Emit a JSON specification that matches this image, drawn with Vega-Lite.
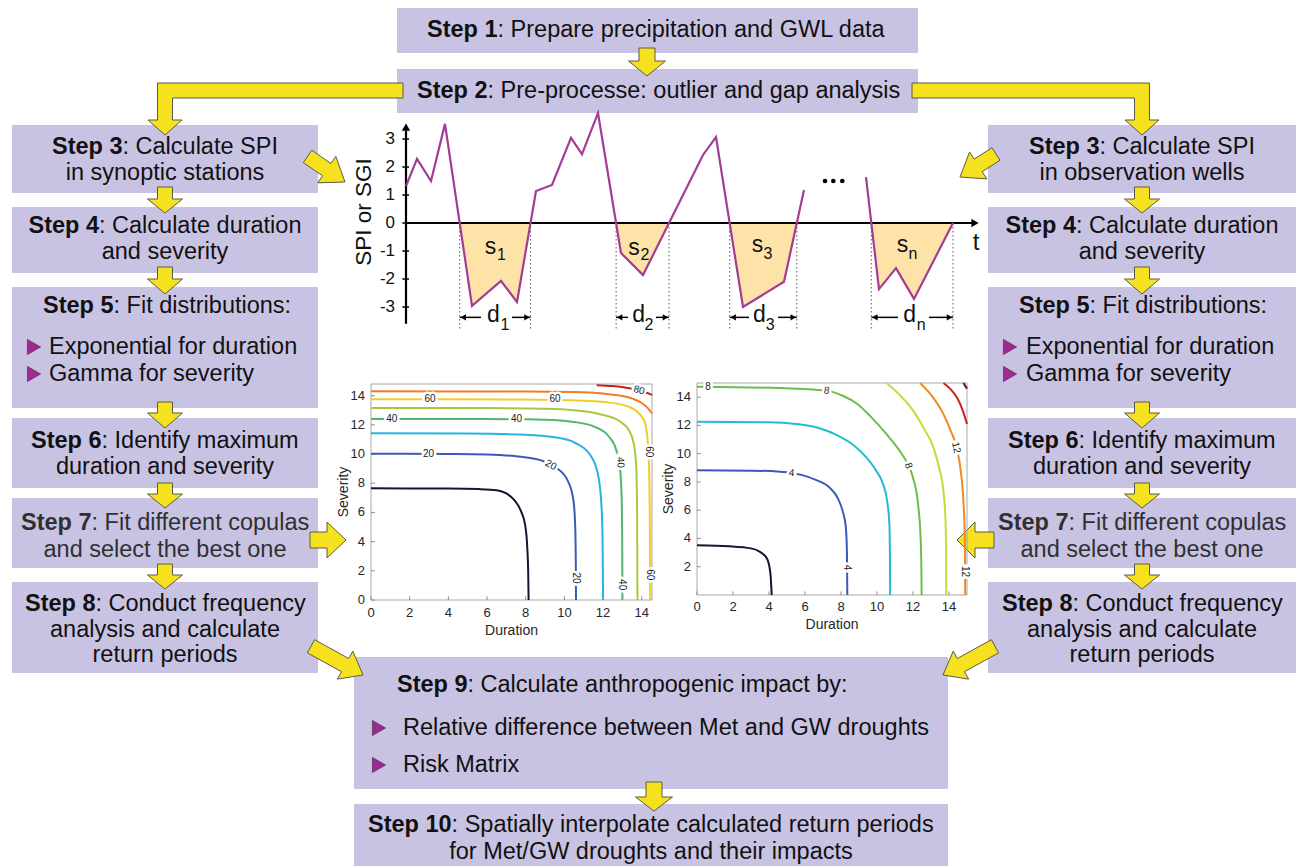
{
"$schema":"https://vega.github.io/schema/vega-lite/v6.json",
"width":1304,"height":866,"padding":0,"autosize":{"type":"none"},
"background":"#ffffff",
"config":{"view":{"stroke":null},"font":"Liberation Sans"},
"datasets":{
"one":[{"n":1}],
"boxes":[
{"x":397,"x2":918,"y":8,"y2":53},{"x":397,"x2":918,"y":69,"y2":113},
{"x":12,"x2":318,"y":125,"y2":193},{"x":12,"x2":318,"y":207,"y2":273},{"x":12,"x2":318,"y":287,"y2":408},{"x":12,"x2":318,"y":418,"y2":488},{"x":12,"x2":318,"y":498,"y2":568},{"x":12,"x2":318,"y":582,"y2":673},
{"x":988,"x2":1296,"y":125,"y2":193},{"x":988,"x2":1296,"y":207,"y2":273},{"x":988,"x2":1296,"y":287,"y2":408},{"x":988,"x2":1296,"y":418,"y2":488},{"x":988,"x2":1296,"y":498,"y2":568},{"x":988,"x2":1296,"y":582,"y2":673},
{"x":354,"x2":948,"y":657,"y2":789},{"x":354,"x2":948,"y":804,"y2":866}],
"arrows":[
{"id":"a1","i":0,"x":639,"y":48},{"id":"a1","i":1,"x":655,"y":48},{"id":"a1","i":2,"x":655,"y":61},{"id":"a1","i":3,"x":665.5,"y":61},{"id":"a1","i":4,"x":647,"y":76},{"id":"a1","i":5,"x":628.5,"y":61},{"id":"a1","i":6,"x":639,"y":61},{"id":"a1","i":7,"x":639,"y":48},
{"id":"a2","i":0,"x":646,"y":782},{"id":"a2","i":1,"x":662,"y":782},{"id":"a2","i":2,"x":662,"y":797},{"id":"a2","i":3,"x":672.5,"y":797},{"id":"a2","i":4,"x":654,"y":811},{"id":"a2","i":5,"x":635.5,"y":797},{"id":"a2","i":6,"x":646,"y":797},{"id":"a2","i":7,"x":646,"y":782},
{"id":"l3","i":0,"x":157.5,"y":187},{"id":"l3","i":1,"x":172.5,"y":187},{"id":"l3","i":2,"x":172.5,"y":199},{"id":"l3","i":3,"x":182.5,"y":199},{"id":"l3","i":4,"x":165,"y":213},{"id":"l3","i":5,"x":147.5,"y":199},{"id":"l3","i":6,"x":157.5,"y":199},{"id":"l3","i":7,"x":157.5,"y":187},
{"id":"l4","i":0,"x":157.5,"y":267},{"id":"l4","i":1,"x":172.5,"y":267},{"id":"l4","i":2,"x":172.5,"y":279},{"id":"l4","i":3,"x":182.5,"y":279},{"id":"l4","i":4,"x":165,"y":294},{"id":"l4","i":5,"x":147.5,"y":279},{"id":"l4","i":6,"x":157.5,"y":279},{"id":"l4","i":7,"x":157.5,"y":267},
{"id":"l5","i":0,"x":157.5,"y":402},{"id":"l5","i":1,"x":172.5,"y":402},{"id":"l5","i":2,"x":172.5,"y":413},{"id":"l5","i":3,"x":182.5,"y":413},{"id":"l5","i":4,"x":165,"y":428},{"id":"l5","i":5,"x":147.5,"y":413},{"id":"l5","i":6,"x":157.5,"y":413},{"id":"l5","i":7,"x":157.5,"y":402},
{"id":"l6","i":0,"x":157.5,"y":483},{"id":"l6","i":1,"x":172.5,"y":483},{"id":"l6","i":2,"x":172.5,"y":494},{"id":"l6","i":3,"x":182.5,"y":494},{"id":"l6","i":4,"x":165,"y":508},{"id":"l6","i":5,"x":147.5,"y":494},{"id":"l6","i":6,"x":157.5,"y":494},{"id":"l6","i":7,"x":157.5,"y":483},
{"id":"l7","i":0,"x":157.5,"y":564},{"id":"l7","i":1,"x":172.5,"y":564},{"id":"l7","i":2,"x":172.5,"y":575},{"id":"l7","i":3,"x":182.5,"y":575},{"id":"l7","i":4,"x":165,"y":589},{"id":"l7","i":5,"x":147.5,"y":575},{"id":"l7","i":6,"x":157.5,"y":575},{"id":"l7","i":7,"x":157.5,"y":564},
{"id":"r3","i":0,"x":1134.5,"y":187},{"id":"r3","i":1,"x":1149.5,"y":187},{"id":"r3","i":2,"x":1149.5,"y":199},{"id":"r3","i":3,"x":1159.5,"y":199},{"id":"r3","i":4,"x":1142,"y":213},{"id":"r3","i":5,"x":1124.5,"y":199},{"id":"r3","i":6,"x":1134.5,"y":199},{"id":"r3","i":7,"x":1134.5,"y":187},
{"id":"r4","i":0,"x":1134.5,"y":267},{"id":"r4","i":1,"x":1149.5,"y":267},{"id":"r4","i":2,"x":1149.5,"y":279},{"id":"r4","i":3,"x":1159.5,"y":279},{"id":"r4","i":4,"x":1142,"y":294},{"id":"r4","i":5,"x":1124.5,"y":279},{"id":"r4","i":6,"x":1134.5,"y":279},{"id":"r4","i":7,"x":1134.5,"y":267},
{"id":"r5","i":0,"x":1134.5,"y":402},{"id":"r5","i":1,"x":1149.5,"y":402},{"id":"r5","i":2,"x":1149.5,"y":413},{"id":"r5","i":3,"x":1159.5,"y":413},{"id":"r5","i":4,"x":1142,"y":428},{"id":"r5","i":5,"x":1124.5,"y":413},{"id":"r5","i":6,"x":1134.5,"y":413},{"id":"r5","i":7,"x":1134.5,"y":402},
{"id":"r6","i":0,"x":1134.5,"y":483},{"id":"r6","i":1,"x":1149.5,"y":483},{"id":"r6","i":2,"x":1149.5,"y":494},{"id":"r6","i":3,"x":1159.5,"y":494},{"id":"r6","i":4,"x":1142,"y":508},{"id":"r6","i":5,"x":1124.5,"y":494},{"id":"r6","i":6,"x":1134.5,"y":494},{"id":"r6","i":7,"x":1134.5,"y":483},
{"id":"r7","i":0,"x":1134.5,"y":564},{"id":"r7","i":1,"x":1149.5,"y":564},{"id":"r7","i":2,"x":1149.5,"y":575},{"id":"r7","i":3,"x":1159.5,"y":575},{"id":"r7","i":4,"x":1142,"y":589},{"id":"r7","i":5,"x":1124.5,"y":575},{"id":"r7","i":6,"x":1134.5,"y":575},{"id":"r7","i":7,"x":1134.5,"y":564},
{"id":"lL","i":0,"x":403,"y":83},{"id":"lL","i":1,"x":157.5,"y":83},{"id":"lL","i":2,"x":157.5,"y":120},{"id":"lL","i":3,"x":148,"y":120},{"id":"lL","i":4,"x":165,"y":135},{"id":"lL","i":5,"x":182,"y":120},{"id":"lL","i":6,"x":172.5,"y":120},{"id":"lL","i":7,"x":172.5,"y":98},{"id":"lL","i":8,"x":403,"y":98},{"id":"lL","i":9,"x":403,"y":83},
{"id":"rL","i":0,"x":912,"y":83},{"id":"rL","i":1,"x":1149.5,"y":83},{"id":"rL","i":2,"x":1149.5,"y":120},{"id":"rL","i":3,"x":1159,"y":120},{"id":"rL","i":4,"x":1142,"y":135},{"id":"rL","i":5,"x":1125,"y":120},{"id":"rL","i":6,"x":1134.5,"y":120},{"id":"rL","i":7,"x":1134.5,"y":98},{"id":"rL","i":8,"x":912,"y":98},{"id":"rL","i":9,"x":912,"y":83},
{"id":"d1","i":0,"x":303.3,"y":162.7},{"id":"d1","i":1,"x":322.6,"y":175.8},{"id":"d1","i":2,"x":317.8,"y":182.8},{"id":"d1","i":3,"x":345,"y":182},{"id":"d1","i":4,"x":335.8,"y":156.4},{"id":"d1","i":5,"x":331,"y":163.4},{"id":"d1","i":6,"x":311.7,"y":150.3},{"id":"d1","i":7,"x":303.3,"y":162.7},
{"id":"d2","i":0,"x":1000,"y":160.3},{"id":"d2","i":1,"x":982.2,"y":171.7},{"id":"d2","i":2,"x":986.8,"y":178.9},{"id":"d2","i":3,"x":960,"y":177},{"id":"d2","i":4,"x":969.6,"y":151.9},{"id":"d2","i":5,"x":974.2,"y":159.1},{"id":"d2","i":6,"x":992,"y":147.7},{"id":"d2","i":7,"x":1000,"y":160.3},
{"id":"d3","i":0,"x":307.4,"y":652.9},{"id":"d3","i":1,"x":341.5,"y":671.7},{"id":"d3","i":2,"x":337.4,"y":679.1},{"id":"d3","i":3,"x":363,"y":675},{"id":"d3","i":4,"x":352.8,"y":651.1},{"id":"d3","i":5,"x":348.7,"y":658.5},{"id":"d3","i":6,"x":314.6,"y":639.7},{"id":"d3","i":7,"x":307.4,"y":652.9},
{"id":"d4","i":0,"x":998.6,"y":652.9},{"id":"d4","i":1,"x":964.5,"y":671.7},{"id":"d4","i":2,"x":968.6,"y":679.1},{"id":"d4","i":3,"x":943,"y":675},{"id":"d4","i":4,"x":953.2,"y":651.1},{"id":"d4","i":5,"x":957.3,"y":658.5},{"id":"d4","i":6,"x":991.4,"y":639.7},{"id":"d4","i":7,"x":998.6,"y":652.9},
{"id":"h1","i":0,"x":310,"y":532},{"id":"h1","i":1,"x":327,"y":532},{"id":"h1","i":2,"x":327,"y":522},{"id":"h1","i":3,"x":346,"y":540},{"id":"h1","i":4,"x":327,"y":558},{"id":"h1","i":5,"x":327,"y":548},{"id":"h1","i":6,"x":310,"y":548},{"id":"h1","i":7,"x":310,"y":532},
{"id":"h2","i":0,"x":994,"y":532},{"id":"h2","i":1,"x":975,"y":532},{"id":"h2","i":2,"x":975,"y":522},{"id":"h2","i":3,"x":957,"y":540},{"id":"h2","i":4,"x":975,"y":558},{"id":"h2","i":5,"x":975,"y":548},{"id":"h2","i":6,"x":994,"y":548},{"id":"h2","i":7,"x":994,"y":532}],
"bullets":[{"x":34,"y":347},{"x":34,"y":374},{"x":1010,"y":347},{"x":1010,"y":374},{"x":379,"y":728},{"x":379,"y":765}],
"tBold":[{"x":427,"y":30,"t":"Step 1"},{"x":417,"y":91,"t":"Step 2"},{"x":52,"y":147,"t":"Step 3"},{"x":1029,"y":147,"t":"Step 3"},{"x":28.5,"y":226,"t":"Step 4"},{"x":1005.5,"y":226,"t":"Step 4"},{"x":43,"y":306,"t":"Step 5"},{"x":1019,"y":306,"t":"Step 5"},{"x":31,"y":441,"t":"Step 6"},{"x":1008,"y":441,"t":"Step 6"},{"x":21,"y":523,"t":"Step 7"},{"x":998,"y":523,"t":"Step 7"},{"x":25,"y":604,"t":"Step 8"},{"x":1002,"y":604,"t":"Step 8"},{"x":397,"y":685,"t":"Step 9"},{"x":368,"y":825,"t":"Step 10"}],
"tLeft":[{"x":497.5,"y":30,"t":": Prepare precipitation and GWL data"},{"x":487.5,"y":91,"t":": Pre-processe: outlier and gap analysis"},{"x":122.5,"y":147,"t":": Calculate SPI"},{"x":1099.5,"y":147,"t":": Calculate SPI"},{"x":99,"y":226,"t":": Calculate duration"},{"x":1076,"y":226,"t":": Calculate duration"},{"x":113.5,"y":306,"t":": Fit distributions:"},{"x":1089.5,"y":306,"t":": Fit distributions:"},{"x":101.5,"y":441,"t":": Identify maximum"},{"x":1078.5,"y":441,"t":": Identify maximum"},{"x":91.5,"y":523,"t":": Fit different copulas"},{"x":1068.5,"y":523,"t":": Fit different copulas"},{"x":95.5,"y":604,"t":": Conduct frequency"},{"x":1072.5,"y":604,"t":": Conduct frequency"},{"x":467.5,"y":685,"t":": Calculate anthropogenic impact by:"},{"x":451.6,"y":825,"t":": Spatially interpolate calculated return periods"},{"x":49,"y":347,"t":"Exponential for duration"},{"x":49,"y":374,"t":"Gamma for severity"},{"x":1026,"y":347,"t":"Exponential for duration"},{"x":1026,"y":374,"t":"Gamma for severity"},{"x":403,"y":728,"t":"Relative difference between Met and GW droughts"},{"x":403,"y":765,"t":"Risk Matrix"}],
"tCenter":[{"x":165,"y":173,"t":"in synoptic stations"},{"x":1142,"y":173,"t":"in observation wells"},{"x":165,"y":252,"t":"and severity"},{"x":1142,"y":252,"t":"and severity"},{"x":165,"y":467,"t":"duration and severity"},{"x":1142,"y":467,"t":"duration and severity"},{"x":165,"y":550,"t":"and select the best one"},{"x":1142,"y":550,"t":"and select the best one"},{"x":165,"y":630,"t":"analysis and calculate"},{"x":1142,"y":630,"t":"analysis and calculate"},{"x":165,"y":655,"t":"return periods"},{"x":1142,"y":655,"t":"return periods"},{"x":651,"y":852,"t":"for Met/GW droughts and their impacts"}],
"spiLine":[{"t":0,"v":1.32,"seg":"a"},{"t":1.1,"v":2.29,"seg":"a"},{"t":2.5,"v":1.5,"seg":"a"},{"t":3.9,"v":3.54,"seg":"a"},{"t":6.6,"v":-2.96,"seg":"a"},{"t":9.5,"v":-2.07,"seg":"a"},{"t":11.1,"v":-2.82,"seg":"a"},{"t":13.0,"v":1.14,"seg":"a"},{"t":14.6,"v":1.36,"seg":"a"},{"t":16.5,"v":3.04,"seg":"a"},{"t":17.6,"v":2.46,"seg":"a"},{"t":19.2,"v":3.93,"seg":"a"},{"t":21.5,"v":-1.07,"seg":"a"},{"t":23.7,"v":-1.86,"seg":"a"},{"t":29.7,"v":2.43,"seg":"a"},{"t":31.0,"v":3.07,"seg":"a"},{"t":33.7,"v":-3.0,"seg":"a"},{"t":37.8,"v":-2.1,"seg":"a"},{"t":39.8,"v":1.18,"seg":"a"},{"t":46.0,"v":1.64,"seg":"b"},{"t":47.3,"v":-2.36,"seg":"b"},{"t":49.0,"v":-1.61,"seg":"b"},{"t":50.8,"v":-2.71,"seg":"b"},{"t":54.7,"v":0,"seg":"b"}],
"spiArea":[{"t":5.37,"v":0,"ev":"1"},{"t":6.6,"v":-2.96,"ev":"1"},{"t":9.5,"v":-2.07,"ev":"1"},{"t":11.1,"v":-2.82,"ev":"1"},{"t":12.45,"v":0,"ev":"1"},{"t":21.01,"v":0,"ev":"2"},{"t":21.5,"v":-1.07,"ev":"2"},{"t":23.7,"v":-1.86,"ev":"2"},{"t":26.3,"v":0,"ev":"2"},{"t":32.37,"v":0,"ev":"3"},{"t":33.7,"v":-3.0,"ev":"3"},{"t":37.8,"v":-2.1,"ev":"3"},{"t":39.08,"v":0,"ev":"3"},{"t":46.53,"v":0,"ev":"n"},{"t":47.3,"v":-2.36,"ev":"n"},{"t":49.0,"v":-1.61,"ev":"n"},{"t":50.8,"v":-2.71,"ev":"n"},{"t":54.7,"v":0,"ev":"n"}],
"spiCross":[{"t":5.37},{"t":12.45},{"t":21.01},{"t":26.3},{"t":32.37},{"t":39.08},{"t":46.53},{"t":54.7}],
"spiAxes":[{"t":0,"v":0,"t2":56.6,"v2":0},{"t":0,"v":-3.6,"t2":0,"v2":3.3}],
"spiHeads":[{"t":56.9,"v":0,"dir":"R"},{"t":0,"v":3.42,"dir":"U"}],
"spiTicks":[{"v":3,"lab":"3"},{"v":2,"lab":"2"},{"v":1,"lab":"1"},{"v":0,"lab":"0"},{"v":-1,"lab":"-1"},{"v":-2,"lab":"-2"},{"v":-3,"lab":"-3"}],
"dArr":[{"t1":5.37,"t2":7.5},{"t1":10.6,"t2":12.45},{"t1":21.01,"t2":22.2},{"t1":25.0,"t2":26.3},{"t1":32.37,"t2":34.3},{"t1":37.2,"t2":39.08},{"t1":46.53,"t2":49.2},{"t1":52.3,"t2":54.7}],
"dHeads":[{"t":5.72,"dir":"L"},{"t":12.1,"dir":"R"},{"t":21.36,"dir":"L"},{"t":25.95,"dir":"R"},{"t":32.72,"dir":"L"},{"t":38.73,"dir":"R"},{"t":46.88,"dir":"L"},{"t":54.35,"dir":"R"}],
"spiLetters":[{"t":8.45,"v":-1.1,"txt":"s"},{"t":22.8,"v":-1.14,"txt":"s"},{"t":35.15,"v":-1.02,"txt":"s"},{"t":49.65,"v":-1.02,"txt":"s"},{"t":8.73,"v":-3.55,"txt":"d"},{"t":23.27,"v":-3.55,"txt":"d"},{"t":35.33,"v":-3.55,"txt":"d"},{"t":50.37,"v":-3.55,"txt":"d"}],
"spiSubs":[{"t":9.55,"v":-1.32,"txt":"1"},{"t":23.9,"v":-1.32,"txt":"2"},{"t":36.2,"v":-1.3,"txt":"3"},{"t":50.7,"v":-1.3,"txt":"n"},{"t":9.9,"v":-3.82,"txt":"1"},{"t":24.3,"v":-3.82,"txt":"2"},{"t":36.43,"v":-3.82,"txt":"3"},{"t":51.53,"v":-3.82,"txt":"n"}],
"spiDots":[{"t":41.9,"v":1.5},{"t":42.73,"v":1.5},{"t":43.63,"v":1.5}],
"tk014":[{"v":0},{"v":2},{"v":4},{"v":6},{"v":8},{"v":10},{"v":12},{"v":14}],
"tk214":[{"v":2},{"v":4},{"v":6},{"v":8},{"v":10},{"v":12},{"v":14}],
"cL":[
{"level":10,"x":0,"y":7.65},{"level":10,"x":4,"y":7.64},{"level":10,"x":5.6,"y":7.6},{"level":10,"x":6.5,"y":7.52},{"level":10,"x":7.0,"y":7.3},{"level":10,"x":7.4,"y":6.86},{"level":10,"x":7.75,"y":6.1},{"level":10,"x":7.97,"y":5.15},{"level":10,"x":8.08,"y":3.6},{"level":10,"x":8.13,"y":1.8},{"level":10,"x":8.15,"y":0},
{"level":20,"x":0,"y":10.02},{"level":20,"x":4,"y":10.0},{"level":20,"x":6,"y":9.97},{"level":20,"x":7.5,"y":9.85},{"level":20,"x":8.7,"y":9.6},{"level":20,"x":9.6,"y":9.05},{"level":20,"x":10.2,"y":8.1},{"level":20,"x":10.47,"y":6.8},{"level":20,"x":10.56,"y":5},{"level":20,"x":10.59,"y":2.5},{"level":20,"x":10.6,"y":0},
{"level":30,"x":0,"y":11.42},{"level":30,"x":5,"y":11.4},{"level":30,"x":8,"y":11.33},{"level":30,"x":9.5,"y":11.15},{"level":30,"x":10.5,"y":10.8},{"level":30,"x":11.3,"y":10.0},{"level":30,"x":11.72,"y":8.7},{"level":30,"x":11.9,"y":6.8},{"level":30,"x":11.97,"y":4.5},{"level":30,"x":11.99,"y":2},{"level":30,"x":12.0,"y":0},
{"level":40,"x":0,"y":12.4},{"level":40,"x":6,"y":12.4},{"level":40,"x":9,"y":12.35},{"level":40,"x":10.5,"y":12.2},{"level":40,"x":11.6,"y":11.85},{"level":40,"x":12.3,"y":11.2},{"level":40,"x":12.7,"y":10.2},{"level":40,"x":12.88,"y":9.0},{"level":40,"x":12.96,"y":7},{"level":40,"x":12.99,"y":4},{"level":40,"x":13.0,"y":0},
{"level":50,"x":0,"y":13.15},{"level":50,"x":6,"y":13.15},{"level":50,"x":9,"y":13.1},{"level":50,"x":10.5,"y":13.0},{"level":50,"x":11.8,"y":12.75},{"level":50,"x":12.8,"y":12.3},{"level":50,"x":13.35,"y":11.6},{"level":50,"x":13.6,"y":10.6},{"level":50,"x":13.72,"y":9.0},{"level":50,"x":13.76,"y":6},{"level":50,"x":13.78,"y":0},
{"level":60,"x":0,"y":13.76},{"level":60,"x":8,"y":13.74},{"level":60,"x":11,"y":13.65},{"level":60,"x":12.2,"y":13.55},{"level":60,"x":13.2,"y":13.3},{"level":60,"x":13.8,"y":12.85},{"level":60,"x":14.15,"y":12.2},{"level":60,"x":14.3,"y":11.0},{"level":60,"x":14.38,"y":9},{"level":60,"x":14.42,"y":5},{"level":60,"x":14.44,"y":0},
{"level":70,"x":0,"y":14.3},{"level":70,"x":8,"y":14.28},{"level":70,"x":10.5,"y":14.25},{"level":70,"x":12.0,"y":14.15},{"level":70,"x":12.8,"y":14.02},{"level":70,"x":13.5,"y":13.8},{"level":70,"x":14.0,"y":13.5},{"level":70,"x":14.35,"y":13.1},{"level":70,"x":14.53,"y":12.78},
{"level":80,"x":11.67,"y":14.72},{"level":80,"x":12.5,"y":14.66},{"level":80,"x":13.2,"y":14.55},{"level":80,"x":13.86,"y":14.37},{"level":80,"x":14.53,"y":14.05}],
"cLlab":[{"x":2.97,"y":10.01,"t":"20","a":0},{"x":9.3,"y":9.25,"t":"20","a":28},{"x":10.59,"y":1.5,"t":"20","a":90},{"x":1.07,"y":12.4,"t":"40","a":0},{"x":7.53,"y":12.38,"t":"40","a":0},{"x":12.9,"y":9.43,"t":"40","a":88},{"x":12.98,"y":1.05,"t":"40","a":90},{"x":3.05,"y":13.76,"t":"60","a":0},{"x":9.52,"y":13.75,"t":"60","a":0},{"x":14.37,"y":10.16,"t":"60","a":90},{"x":14.43,"y":1.73,"t":"60","a":90},{"x":13.86,"y":14.37,"t":"80","a":14}],
"cR":[
{"level":2,"x":0,"y":3.52},{"level":2,"x":1.8,"y":3.45},{"level":2,"x":3.0,"y":3.3},{"level":2,"x":3.5,"y":3.05},{"level":2,"x":3.9,"y":2.55},{"level":2,"x":4.08,"y":1.5},{"level":2,"x":4.15,"y":0},
{"level":4,"x":0,"y":8.82},{"level":4,"x":3,"y":8.8},{"level":4,"x":4.6,"y":8.72},{"level":4,"x":5.8,"y":8.5},{"level":4,"x":6.6,"y":8.15},{"level":4,"x":7.38,"y":7.58},{"level":4,"x":7.8,"y":6.9},{"level":4,"x":8.1,"y":5.9},{"level":4,"x":8.27,"y":4.8},{"level":4,"x":8.33,"y":3},{"level":4,"x":8.35,"y":0},
{"level":6,"x":0,"y":12.25},{"level":6,"x":4,"y":12.22},{"level":6,"x":5.5,"y":12.1},{"level":6,"x":6.8,"y":11.8},{"level":6,"x":7.8,"y":11.3},{"level":6,"x":8.7,"y":10.6},{"level":6,"x":9.42,"y":9.72},{"level":6,"x":9.95,"y":8.8},{"level":6,"x":10.35,"y":7.8},{"level":6,"x":10.58,"y":6.5},{"level":6,"x":10.69,"y":5},{"level":6,"x":10.72,"y":2.5},{"level":6,"x":10.73,"y":0},
{"level":8,"x":0,"y":14.74},{"level":8,"x":4.6,"y":14.64},{"level":8,"x":7.2,"y":14.45},{"level":8,"x":8.1,"y":14.1},{"level":8,"x":8.87,"y":13.55},{"level":8,"x":9.7,"y":12.55},{"level":8,"x":10.54,"y":11.37},{"level":8,"x":11.2,"y":10.3},{"level":8,"x":11.65,"y":9.4},{"level":8,"x":12.0,"y":8.3},{"level":8,"x":12.3,"y":6.2},{"level":8,"x":12.43,"y":3.8},{"level":8,"x":12.47,"y":1.5},{"level":8,"x":12.48,"y":0},
{"level":10,"x":10.54,"y":15.0},{"level":10,"x":11.3,"y":14.1},{"level":10,"x":12.02,"y":13.03},{"level":10,"x":12.6,"y":11.8},{"level":10,"x":13.14,"y":10.43},{"level":10,"x":13.45,"y":9.0},{"level":10,"x":13.69,"y":7.35},{"level":10,"x":13.8,"y":5.5},{"level":10,"x":13.84,"y":3},{"level":10,"x":13.85,"y":0},
{"level":12,"x":12.39,"y":15.0},{"level":12,"x":13.1,"y":14.0},{"level":12,"x":13.69,"y":12.8},{"level":12,"x":14.1,"y":11.6},{"level":12,"x":14.43,"y":10.43},{"level":12,"x":14.65,"y":8.8},{"level":12,"x":14.8,"y":6.64},{"level":12,"x":14.88,"y":4},{"level":12,"x":14.9,"y":0},
{"level":14,"x":13.69,"y":15.0},{"level":14,"x":14.1,"y":14.55},{"level":14,"x":14.45,"y":13.95},{"level":14,"x":14.75,"y":13.1},{"level":14,"x":15.0,"y":12.1},
{"level":16,"x":14.8,"y":15.0},{"level":16,"x":15.0,"y":14.6}],
"cRlab":[{"x":0.61,"y":14.73,"t":"8","a":0},{"x":7.2,"y":14.45,"t":"8","a":8},{"x":11.75,"y":9.15,"t":"8","a":72},{"x":5.25,"y":8.62,"t":"4","a":6},{"x":8.34,"y":1.94,"t":"4","a":90},{"x":14.4,"y":10.43,"t":"12","a":78},{"x":14.89,"y":1.66,"t":"12","a":90}]
},
"resolve":{"scale":{"x":"independent","y":"independent","color":"independent","shape":"independent"}},
"layer":[
{
"encoding":{"x":{"field":"x","type":"quantitative","scale":{"domain":[0,1304],"range":[0,1304],"nice":false,"zero":false},"axis":null},
"y":{"field":"y","type":"quantitative","scale":{"domain":[0,866],"range":[0,866],"nice":false,"zero":false},"axis":null}},
"layer":[
{"data":{"name":"boxes"},"mark":{"type":"rect","fill":"#c9c3e3"},"encoding":{"x2":{"field":"x2"},"y2":{"field":"y2"}}},
{"data":{"name":"arrows"},"mark":{"type":"line","fill":"#f6e11e","stroke":"#5a5a4a","strokeWidth":1,"strokeJoin":"miter"},"encoding":{"detail":{"field":"id","type":"nominal"},"order":{"field":"i","type":"quantitative"}}},
{"data":{"name":"bullets"},"mark":{"type":"point","shape":"triangle-right","filled":true,"fill":"#9e2a91","stroke":"#40203f","strokeWidth":0.6,"size":230,"opacity":1}},
{"data":{"name":"tBold"},"mark":{"type":"text","align":"left","baseline":"middle","font":"Liberation Sans","fontSize":23.5,"fontWeight":"bold"},"encoding":{"text":{"field":"t","type":"nominal"},"color":{"condition":{"test":"datum.y == 523 || datum.y == 550","value":"#303030"},"value":"#111111"}}},
{"data":{"name":"tLeft"},"mark":{"type":"text","align":"left","baseline":"middle","font":"Liberation Sans","fontSize":23.5},"encoding":{"text":{"field":"t","type":"nominal"},"color":{"condition":{"test":"datum.y == 523 || datum.y == 550","value":"#303030"},"value":"#111111"}}},
{"data":{"name":"tCenter"},"mark":{"type":"text","align":"center","baseline":"middle","font":"Liberation Sans","fontSize":23.5},"encoding":{"text":{"field":"t","type":"nominal"},"color":{"condition":{"test":"datum.y == 523 || datum.y == 550","value":"#303030"},"value":"#111111"}}}
]
},
{
"layer":[
{"data":{"name":"spiArea"},"mark":{"type":"area","fill":"#fde3a7","opacity":1},"encoding":{"x":{"field":"t","type":"quantitative","scale":{"domain":[0,57.2],"range":[406,978],"nice":false,"zero":false},"axis":null},"y":{"field":"v","type":"quantitative","scale":{"domain":[-4,4],"range":[335,111],"nice":false,"zero":false},"axis":null,"stack":null},"y2":{"datum":0},"detail":{"field":"ev","type":"nominal"}}},
{"data":{"name":"spiCross"},"mark":{"type":"rule","stroke":"#555555","strokeWidth":1,"strokeDash":[1.5,2.5]},"encoding":{"x":{"field":"t","type":"quantitative","scale":{"domain":[0,57.2],"range":[406,978],"nice":false,"zero":false},"axis":null},"y":{"datum":0,"type":"quantitative","scale":{"domain":[-4,4],"range":[335,111],"nice":false,"zero":false},"axis":null},"y2":{"datum":-3.85}}},
{"data":{"name":"spiAxes"},"mark":{"type":"rule","stroke":"#000000","strokeWidth":2.2},"encoding":{"x":{"field":"t","type":"quantitative","scale":{"domain":[0,57.2],"range":[406,978],"nice":false,"zero":false},"axis":null},"y":{"field":"v","type":"quantitative","scale":{"domain":[-4,4],"range":[335,111],"nice":false,"zero":false},"axis":null},"x2":{"field":"t2"},"y2":{"field":"v2"}}},
{"data":{"name":"spiHeads"},"mark":{"type":"point","filled":true,"fill":"#000000","size":70,"opacity":1,"strokeWidth":0},"encoding":{"x":{"field":"t","type":"quantitative","scale":{"domain":[0,57.2],"range":[406,978],"nice":false,"zero":false},"axis":null},"y":{"field":"v","type":"quantitative","scale":{"domain":[-4,4],"range":[335,111],"nice":false,"zero":false},"axis":null},"shape":{"field":"dir","type":"nominal","scale":{"domain":["L","R","U"],"range":["triangle-left","triangle-right","triangle-up"]},"legend":null}}},
{"data":{"name":"spiTicks"},"mark":{"type":"rule","stroke":"#000000","strokeWidth":1.5},"encoding":{"x":{"datum":-0.37,"type":"quantitative","scale":{"domain":[0,57.2],"range":[406,978],"nice":false,"zero":false},"axis":null},"x2":{"datum":0.3},"y":{"field":"v","type":"quantitative","scale":{"domain":[-4,4],"range":[335,111],"nice":false,"zero":false},"axis":null}}},
{"data":{"name":"spiLine"},"mark":{"type":"line","stroke":"#a23c96","strokeWidth":2.2},"encoding":{"x":{"field":"t","type":"quantitative","scale":{"domain":[0,57.2],"range":[406,978],"nice":false,"zero":false},"axis":null},"y":{"field":"v","type":"quantitative","scale":{"domain":[-4,4],"range":[335,111],"nice":false,"zero":false},"axis":null},"detail":{"field":"seg","type":"nominal"}}},
{"data":{"name":"spiDots"},"mark":{"type":"point","filled":true,"fill":"#000000","size":22,"opacity":1,"strokeWidth":0},"encoding":{"x":{"field":"t","type":"quantitative","scale":{"domain":[0,57.2],"range":[406,978],"nice":false,"zero":false},"axis":null},"y":{"field":"v","type":"quantitative","scale":{"domain":[-4,4],"range":[335,111],"nice":false,"zero":false},"axis":null}}},
{"data":{"name":"spiTicks"},"mark":{"type":"text","align":"right","baseline":"middle","dx":-11,"fontSize":17,"font":"Liberation Sans","fill":"#111111"},"encoding":{"x":{"datum":0,"type":"quantitative","scale":{"domain":[0,57.2],"range":[406,978],"nice":false,"zero":false},"axis":null},"y":{"field":"v","type":"quantitative","scale":{"domain":[-4,4],"range":[335,111],"nice":false,"zero":false},"axis":null},"text":{"field":"lab","type":"nominal"}}},
{"data":{"name":"one"},"mark":{"type":"text","text":"SPI or SGI","align":"center","baseline":"middle","angle":270,"dy":-42,"fontSize":22.5,"font":"Liberation Sans","fill":"#111111"},"encoding":{"x":{"datum":0,"type":"quantitative","scale":{"domain":[0,57.2],"range":[406,978],"nice":false,"zero":false},"axis":null},"y":{"datum":0.39,"type":"quantitative","scale":{"domain":[-4,4],"range":[335,111],"nice":false,"zero":false},"axis":null}}},
{"data":{"name":"one"},"mark":{"type":"text","text":"t","align":"center","baseline":"middle","dy":20,"fontSize":24,"font":"Liberation Sans","fill":"#111111"},"encoding":{"x":{"datum":57.0,"type":"quantitative","scale":{"domain":[0,57.2],"range":[406,978],"nice":false,"zero":false},"axis":null},"y":{"datum":0,"type":"quantitative","scale":{"domain":[-4,4],"range":[335,111],"nice":false,"zero":false},"axis":null}}},
{"data":{"name":"dArr"},"mark":{"type":"rule","stroke":"#000000","strokeWidth":1.5},"encoding":{"x":{"field":"t1","type":"quantitative","scale":{"domain":[0,57.2],"range":[406,978],"nice":false,"zero":false},"axis":null},"x2":{"field":"t2"},"y":{"datum":-3.37,"type":"quantitative","scale":{"domain":[-4,4],"range":[335,111],"nice":false,"zero":false},"axis":null}}},
{"data":{"name":"dHeads"},"mark":{"type":"point","filled":true,"fill":"#000000","size":40,"opacity":1,"strokeWidth":0},"encoding":{"x":{"field":"t","type":"quantitative","scale":{"domain":[0,57.2],"range":[406,978],"nice":false,"zero":false},"axis":null},"y":{"datum":-3.37,"type":"quantitative","scale":{"domain":[-4,4],"range":[335,111],"nice":false,"zero":false},"axis":null},"shape":{"field":"dir","type":"nominal","scale":{"domain":["L","R","U"],"range":["triangle-left","triangle-right","triangle-up"]},"legend":null}}},
{"data":{"name":"spiLetters"},"mark":{"type":"text","align":"center","baseline":"alphabetic","fontSize":23,"font":"Liberation Sans","fill":"#111111"},"encoding":{"x":{"field":"t","type":"quantitative","scale":{"domain":[0,57.2],"range":[406,978],"nice":false,"zero":false},"axis":null},"y":{"field":"v","type":"quantitative","scale":{"domain":[-4,4],"range":[335,111],"nice":false,"zero":false},"axis":null},"text":{"field":"txt","type":"nominal"}}},
{"data":{"name":"spiSubs"},"mark":{"type":"text","align":"center","baseline":"alphabetic","fontSize":16,"font":"Liberation Sans","fill":"#111111"},"encoding":{"x":{"field":"t","type":"quantitative","scale":{"domain":[0,57.2],"range":[406,978],"nice":false,"zero":false},"axis":null},"y":{"field":"v","type":"quantitative","scale":{"domain":[-4,4],"range":[335,111],"nice":false,"zero":false},"axis":null},"text":{"field":"txt","type":"nominal"}}}
]
},
{
"layer":[
{"data":{"name":"one"},"mark":{"type":"rect","fill":"transparent","stroke":"#a8a8a8","strokeWidth":1},"encoding":{"x":{"datum":0,"type":"quantitative","scale":{"domain":[0,14.53],"range":[371,652],"nice":false,"zero":false},"axis":null},"x2":{"datum":14.53},"y":{"datum":0,"type":"quantitative","scale":{"domain":[0,14.8],"range":[600,384],"nice":false,"zero":false},"axis":null},"y2":{"datum":14.8}}},
{"data":{"name":"tk014"},"mark":{"type":"rule","stroke":"#8a8a8a","strokeWidth":1},"encoding":{"x":{"field":"v","type":"quantitative","scale":{"domain":[0,14.53],"range":[371,652],"nice":false,"zero":false},"axis":null},"y":{"datum":0,"type":"quantitative","scale":{"domain":[0,14.8],"range":[600,384],"nice":false,"zero":false},"axis":null},"y2":{"datum":0.25}}},
{"data":{"name":"tk014"},"mark":{"type":"rule","stroke":"#8a8a8a","strokeWidth":1},"encoding":{"y":{"field":"v","type":"quantitative","scale":{"domain":[0,14.8],"range":[600,384],"nice":false,"zero":false},"axis":null},"x":{"datum":0,"type":"quantitative","scale":{"domain":[0,14.53],"range":[371,652],"nice":false,"zero":false},"axis":null},"x2":{"datum":0.2}}},
{"data":{"name":"cL"},"mark":{"type":"line","strokeWidth":2,"interpolate":"monotone"},"encoding":{"x":{"field":"x","type":"quantitative","scale":{"domain":[0,14.53],"range":[371,652],"nice":false,"zero":false},"axis":null},"y":{"field":"y","type":"quantitative","scale":{"domain":[0,14.8],"range":[600,384],"nice":false,"zero":false},"axis":null},"color":{"field":"level","type":"ordinal","scale":{"domain":[10,20,30,40,50,60,70,80],"range":["#1d1233","#3a5cb8","#28b3df","#4fb96b","#a7c93b","#f0cd2a","#ef7d24","#c42121"]},"legend":null}}},
{"data":{"name":"cLlab"},"mark":{"type":"text","align":"center","baseline":"middle","fontSize":10,"font":"Liberation Sans","fill":"#ffffff","stroke":"#ffffff","strokeWidth":5},"encoding":{"x":{"field":"x","type":"quantitative","scale":{"domain":[0,14.53],"range":[371,652],"nice":false,"zero":false},"axis":null},"y":{"field":"y","type":"quantitative","scale":{"domain":[0,14.8],"range":[600,384],"nice":false,"zero":false},"axis":null},"text":{"field":"t","type":"nominal"},"angle":{"field":"a","type":"quantitative","scale":null}}},
{"data":{"name":"cLlab"},"mark":{"type":"text","align":"center","baseline":"middle","fontSize":10,"font":"Liberation Sans","fill":"#222222"},"encoding":{"x":{"field":"x","type":"quantitative","scale":{"domain":[0,14.53],"range":[371,652],"nice":false,"zero":false},"axis":null},"y":{"field":"y","type":"quantitative","scale":{"domain":[0,14.8],"range":[600,384],"nice":false,"zero":false},"axis":null},"text":{"field":"t","type":"nominal"},"angle":{"field":"a","type":"quantitative","scale":null}}},
{"data":{"name":"tk014"},"mark":{"type":"text","align":"center","baseline":"middle","dy":13,"fontSize":13,"font":"Liberation Sans","fill":"#262626"},"encoding":{"x":{"field":"v","type":"quantitative","scale":{"domain":[0,14.53],"range":[371,652],"nice":false,"zero":false},"axis":null},"y":{"datum":0,"type":"quantitative","scale":{"domain":[0,14.8],"range":[600,384],"nice":false,"zero":false},"axis":null},"text":{"field":"v","type":"quantitative","format":"d"}}},
{"data":{"name":"tk014"},"mark":{"type":"text","align":"right","baseline":"middle","dx":-6,"fontSize":13,"font":"Liberation Sans","fill":"#262626"},"encoding":{"y":{"field":"v","type":"quantitative","scale":{"domain":[0,14.8],"range":[600,384],"nice":false,"zero":false},"axis":null},"x":{"datum":0,"type":"quantitative","scale":{"domain":[0,14.53],"range":[371,652],"nice":false,"zero":false},"axis":null},"text":{"field":"v","type":"quantitative","format":"d"}}},
{"data":{"name":"one"},"mark":{"type":"text","text":"Duration","align":"center","baseline":"middle","dy":31,"fontSize":14,"font":"Liberation Sans","fill":"#262626"},"encoding":{"x":{"datum":7.265,"type":"quantitative","scale":{"domain":[0,14.53],"range":[371,652],"nice":false,"zero":false},"axis":null},"y":{"datum":0,"type":"quantitative","scale":{"domain":[0,14.8],"range":[600,384],"nice":false,"zero":false},"axis":null}}},
{"data":{"name":"one"},"mark":{"type":"text","text":"Severity","align":"center","baseline":"middle","angle":270,"dy":-27,"fontSize":14,"font":"Liberation Sans","fill":"#262626"},"encoding":{"x":{"datum":0,"type":"quantitative","scale":{"domain":[0,14.53],"range":[371,652],"nice":false,"zero":false},"axis":null},"y":{"datum":7.4,"type":"quantitative","scale":{"domain":[0,14.8],"range":[600,384],"nice":false,"zero":false},"axis":null}}}
]
},
{
"layer":[
{"data":{"name":"one"},"mark":{"type":"rect","fill":"transparent","stroke":"#a8a8a8","strokeWidth":1},"encoding":{"x":{"datum":0,"type":"quantitative","scale":{"domain":[0,15],"range":[697,967],"nice":false,"zero":false},"axis":null},"x2":{"datum":15},"y":{"datum":0,"type":"quantitative","scale":{"domain":[0,15],"range":[595,383],"nice":false,"zero":false},"axis":null},"y2":{"datum":15}}},
{"data":{"name":"tk014"},"mark":{"type":"rule","stroke":"#8a8a8a","strokeWidth":1},"encoding":{"x":{"field":"v","type":"quantitative","scale":{"domain":[0,15],"range":[697,967],"nice":false,"zero":false},"axis":null},"y":{"datum":0,"type":"quantitative","scale":{"domain":[0,15],"range":[595,383],"nice":false,"zero":false},"axis":null},"y2":{"datum":0.25}}},
{"data":{"name":"tk214"},"mark":{"type":"rule","stroke":"#8a8a8a","strokeWidth":1},"encoding":{"y":{"field":"v","type":"quantitative","scale":{"domain":[0,15],"range":[595,383],"nice":false,"zero":false},"axis":null},"x":{"datum":0,"type":"quantitative","scale":{"domain":[0,15],"range":[697,967],"nice":false,"zero":false},"axis":null},"x2":{"datum":0.2}}},
{"data":{"name":"cR"},"mark":{"type":"line","strokeWidth":2,"interpolate":"monotone"},"encoding":{"x":{"field":"x","type":"quantitative","scale":{"domain":[0,15],"range":[697,967],"nice":false,"zero":false},"axis":null},"y":{"field":"y","type":"quantitative","scale":{"domain":[0,15],"range":[595,383],"nice":false,"zero":false},"axis":null},"color":{"field":"level","type":"ordinal","scale":{"domain":[2,4,6,8,10,12,14,16],"range":["#1d1233","#3a5cb8","#22bcd3","#6dbd47","#c9d93c","#ef8a25","#c52420","#6d1014"]},"legend":null}}},
{"data":{"name":"cRlab"},"mark":{"type":"text","align":"center","baseline":"middle","fontSize":10,"font":"Liberation Sans","fill":"#ffffff","stroke":"#ffffff","strokeWidth":5},"encoding":{"x":{"field":"x","type":"quantitative","scale":{"domain":[0,15],"range":[697,967],"nice":false,"zero":false},"axis":null},"y":{"field":"y","type":"quantitative","scale":{"domain":[0,15],"range":[595,383],"nice":false,"zero":false},"axis":null},"text":{"field":"t","type":"nominal"},"angle":{"field":"a","type":"quantitative","scale":null}}},
{"data":{"name":"cRlab"},"mark":{"type":"text","align":"center","baseline":"middle","fontSize":10,"font":"Liberation Sans","fill":"#222222"},"encoding":{"x":{"field":"x","type":"quantitative","scale":{"domain":[0,15],"range":[697,967],"nice":false,"zero":false},"axis":null},"y":{"field":"y","type":"quantitative","scale":{"domain":[0,15],"range":[595,383],"nice":false,"zero":false},"axis":null},"text":{"field":"t","type":"nominal"},"angle":{"field":"a","type":"quantitative","scale":null}}},
{"data":{"name":"tk014"},"mark":{"type":"text","align":"center","baseline":"middle","dy":12,"fontSize":13,"font":"Liberation Sans","fill":"#262626"},"encoding":{"x":{"field":"v","type":"quantitative","scale":{"domain":[0,15],"range":[697,967],"nice":false,"zero":false},"axis":null},"y":{"datum":0,"type":"quantitative","scale":{"domain":[0,15],"range":[595,383],"nice":false,"zero":false},"axis":null},"text":{"field":"v","type":"quantitative","format":"d"}}},
{"data":{"name":"tk214"},"mark":{"type":"text","align":"right","baseline":"middle","dx":-6,"fontSize":13,"font":"Liberation Sans","fill":"#262626"},"encoding":{"y":{"field":"v","type":"quantitative","scale":{"domain":[0,15],"range":[595,383],"nice":false,"zero":false},"axis":null},"x":{"datum":0,"type":"quantitative","scale":{"domain":[0,15],"range":[697,967],"nice":false,"zero":false},"axis":null},"text":{"field":"v","type":"quantitative","format":"d"}}},
{"data":{"name":"one"},"mark":{"type":"text","text":"Duration","align":"center","baseline":"middle","dy":30,"fontSize":14,"font":"Liberation Sans","fill":"#262626"},"encoding":{"x":{"datum":7.5,"type":"quantitative","scale":{"domain":[0,15],"range":[697,967],"nice":false,"zero":false},"axis":null},"y":{"datum":0,"type":"quantitative","scale":{"domain":[0,15],"range":[595,383],"nice":false,"zero":false},"axis":null}}},
{"data":{"name":"one"},"mark":{"type":"text","text":"Severity","align":"center","baseline":"middle","angle":270,"dy":-28,"fontSize":14,"font":"Liberation Sans","fill":"#262626"},"encoding":{"x":{"datum":0,"type":"quantitative","scale":{"domain":[0,15],"range":[697,967],"nice":false,"zero":false},"axis":null},"y":{"datum":7.5,"type":"quantitative","scale":{"domain":[0,15],"range":[595,383],"nice":false,"zero":false},"axis":null}}}
]
}
]
}
